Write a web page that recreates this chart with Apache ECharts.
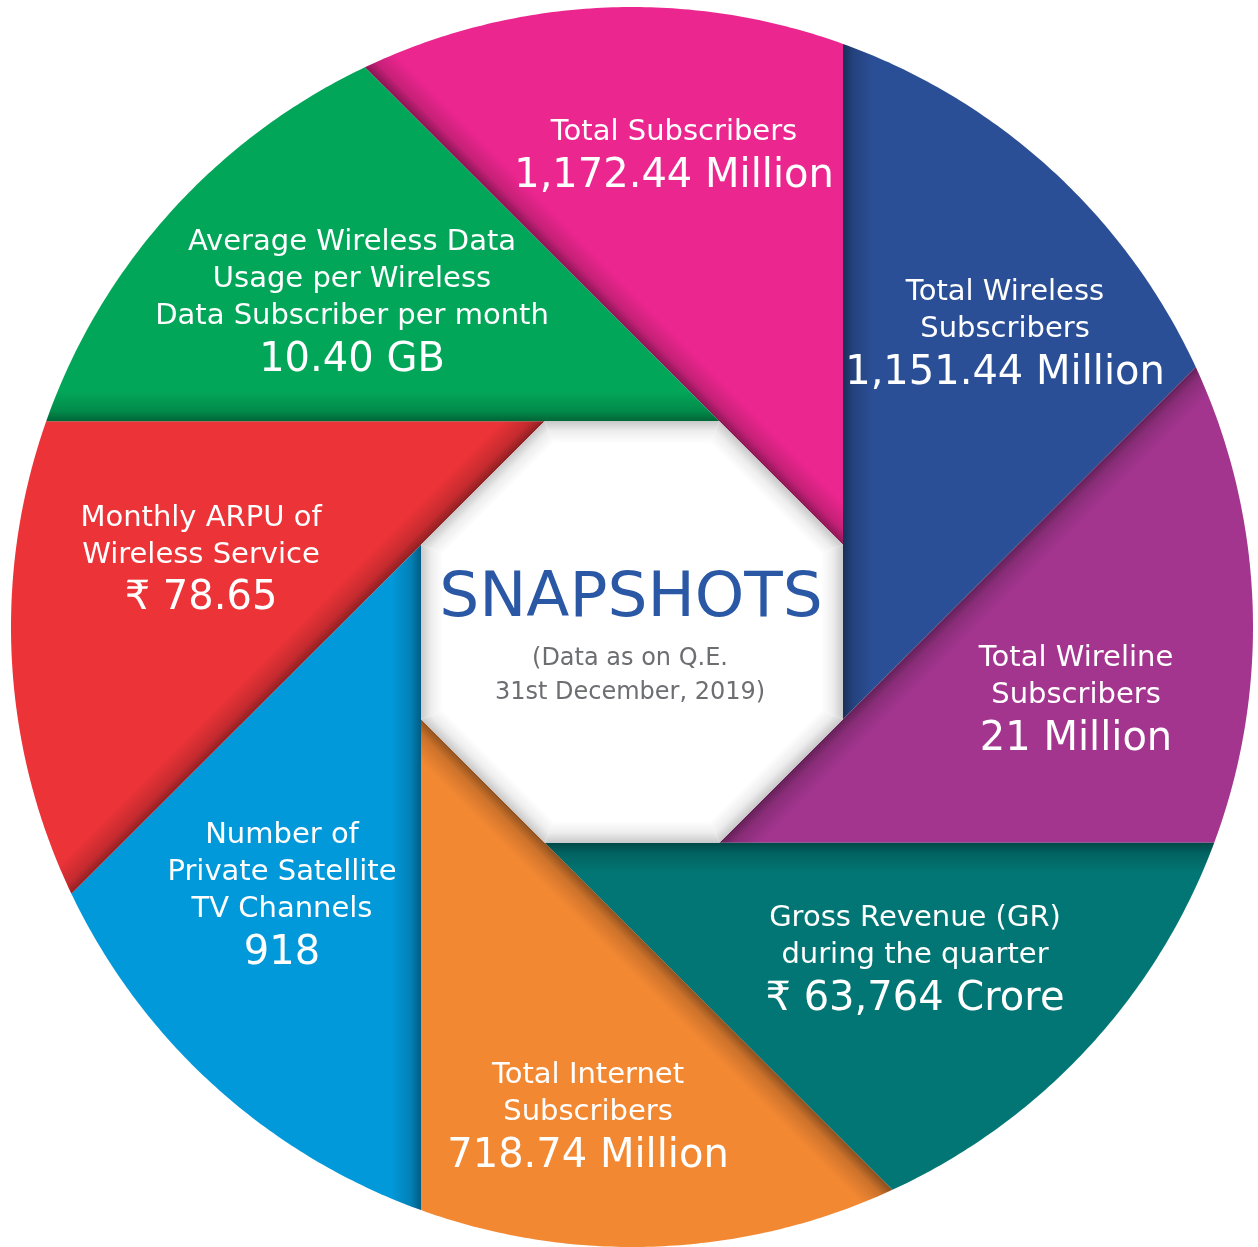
<!DOCTYPE html>
<html>
<head>
<meta charset="utf-8">
<title>Snapshots</title>
<script src="https://cdn.jsdelivr.net/npm/echarts@6/dist/echarts.min.js"></script>
<style>
    html, body { margin: 0; padding: 0; background: #ffffff; }
    #chart { width: 1258px; height: 1247px; }
</style>
</head>
<body>
<div id="chart"></div>
<script>
// ----------------------------- data -----------------------------
// segments, clockwise starting with the pink one at the top
const segTitles = [
    ['Total Subscribers'],
    ['Total Wireless', 'Subscribers'],
    ['Total Wireline', 'Subscribers'],
    ['Gross Revenue (GR)', 'during the quarter'],
    ['Total Internet', 'Subscribers'],
    ['Number of', 'Private Satellite', 'TV Channels'],
    ['Monthly ARPU of', 'Wireless Service'],
    ['Average Wireless Data', 'Usage per Wireless', 'Data Subscriber per month']
];
const segValues = [
    '1,172.44 Million',
    '1,151.44 Million',
    '21 Million',
    '₹ 63,764 Crore',
    '718.74 Million',
    '918',
    '₹ 78.65',
    '10.40 GB'
];
const segColors = ['#ec268f', '#2b4f96', '#a3358f', '#027674', '#f38833', '#0299da', '#eb3338', '#02a659'];

const centerTitle = 'SNAPSHOTS';
const centerNote = ['(Data as on Q.E.', '31st December, 2019)'];

// ----------------------------- layout -----------------------------
const R_PX = 621;                 // circle radius (px)
const CX = 632, CY = 628;         // circle centre (px)
const OCT_A = 211 / R_PX;         // octagon apothem, circle radius = 1
const OCT_OY = -5 / R_PX;         // octagon sits slightly lower than the circle centre
const OCT_R = OCT_A / Math.cos(Math.PI / 8);
const EDGE_SHADE = 30 / R_PX;     // width of the fold shadow on each segment
const INNER_SHADE = 22 / R_PX;    // inner shadow of the white octagon

// first-line centre of each label block (px)
const labelPos = [[674, 133], [1005, 293], [1076, 660], [915, 920], [588, 1077], [282, 837], [201, 519], [352, 243]];
const FONT = '"DejaVu Sans", sans-serif';

function toData(px, py) {
    return [(px - CX) / R_PX, (CY - py) / R_PX];
}

function shade(hex, f) {
    const n = parseInt(hex.slice(1), 16);
    const r = Math.round(((n >> 16) & 255) * f);
    const g = Math.round(((n >> 8) & 255) * f);
    const b = Math.round((n & 255) * f);
    return 'rgb(' + r + ',' + g + ',' + b + ')';
}

function dirOf(deg) {
    const a = deg * Math.PI / 180;
    return [Math.cos(a), Math.sin(a)];
}

// where a ray from p along d leaves the unit circle
function hitCircle(p, d) {
    const pd = p[0] * d[0] + p[1] * d[1];
    const pp = p[0] * p[0] + p[1] * p[1];
    const t = -pd + Math.sqrt(pd * pd - pp + 1);
    return [p[0] + t * d[0], p[1] + t * d[1]];
}

function octVertex(deg) {
    const a = deg * Math.PI / 180;
    return [OCT_R * Math.cos(a), OCT_OY + OCT_R * Math.sin(a)];
}

// one pinwheel segment: apex on an octagon corner, two rays, closed by the arc
function renderSegment(params, api) {
    const k = params.dataIndex;
    const color = segColors[k];
    const apex = octVertex(22.5 - 45 * k);
    const dA = dirOf(135 - 45 * k);
    const dB = dirOf(90 - 45 * k);
    const hA = hitCircle(apex, dA);
    const hB = hitCircle(apex, dB);

    let angA = Math.atan2(hA[1], hA[0]);
    const angB = Math.atan2(hB[1], hB[0]);
    if (angA < angB) angA += Math.PI * 2;

    const pts = [api.coord(apex), api.coord(hA)];
    const steps = 90;
    for (let s = 1; s < steps; s++) {
        const a = angA + (angB - angA) * s / steps;
        pts.push(api.coord([Math.cos(a), Math.sin(a)]));
    }
    pts.push(api.coord(hB));

    // shadow along ray A, falling into the segment
    const n = [dA[1], -dA[0]];
    const g0 = api.coord(apex);
    const g1 = api.coord([apex[0] + n[0] * EDGE_SHADE, apex[1] + n[1] * EDGE_SHADE]);
    const fill = new echarts.graphic.LinearGradient(g0[0], g0[1], g1[0], g1[1], [
        { offset: 0, color: shade(color, 0.6) },
        { offset: 0.35, color: shade(color, 0.84) },
        { offset: 1, color: color }
    ], true);

    const children = [{
        type: 'polygon',
        shape: { points: pts },
        style: { fill: fill, stroke: null }
    }];

    const lines = segTitles[k];
    const base = labelPos[k];
    lines.forEach((txt, j) => {
        const p = api.coord(toData(base[0], base[1] + 37 * j));
        children.push({
            type: 'text',
            x: p[0], y: p[1],
            style: {
                text: txt, fill: '#ffffff', font: '29px ' + FONT,
                textAlign: 'center', textVerticalAlign: 'middle'
            }
        });
    });
    const vp = api.coord(toData(base[0], base[1] + 37 * (lines.length - 1) + 44));
    children.push({
        type: 'text',
        x: vp[0], y: vp[1],
        style: {
            text: segValues[k], fill: '#ffffff', font: '40px ' + FONT,
            textAlign: 'center', textVerticalAlign: 'middle'
        }
    });

    return { type: 'group', children: children };
}

// white octagon in the middle with a soft inner shadow and the title
function renderCenter(params, api) {
    const children = [];
    const outer = [], inner = [];
    const rIn = (OCT_A - INNER_SHADE) / Math.cos(Math.PI / 8);
    for (let i = 0; i < 8; i++) {
        const a = (22.5 + 45 * i) * Math.PI / 180;
        outer.push([OCT_R * Math.cos(a), OCT_OY + OCT_R * Math.sin(a)]);
        inner.push([rIn * Math.cos(a), OCT_OY + rIn * Math.sin(a)]);
    }
    for (let i = 0; i < 8; i++) {
        const j = (i + 1) % 8;
        const mid = (45 + 45 * i) * Math.PI / 180;
        const e0 = api.coord([OCT_A * Math.cos(mid), OCT_OY + OCT_A * Math.sin(mid)]);
        const e1 = api.coord([(OCT_A - INNER_SHADE) * Math.cos(mid), OCT_OY + (OCT_A - INNER_SHADE) * Math.sin(mid)]);
        children.push({
            type: 'polygon',
            shape: { points: [outer[i], outer[j], inner[j], inner[i]].map(p => api.coord(p)) },
            style: {
                fill: new echarts.graphic.LinearGradient(e0[0], e0[1], e1[0], e1[1], [
                    { offset: 0, color: '#c9c9c9' },
                    { offset: 0.45, color: '#ededed' },
                    { offset: 1, color: '#ffffff' }
                ], true),
                stroke: '#ffffff', lineWidth: 0
            }
        });
    }
    children.push({
        type: 'polygon',
        shape: { points: inner.map(p => api.coord(p)) },
        style: { fill: '#ffffff', stroke: '#ffffff', lineWidth: 1 }
    });

    const tp = api.coord(toData(631, 601));
    children.push({
        type: 'text', x: tp[0], y: tp[1],
        style: {
            text: centerTitle, fill: '#2b58a5', font: '63px ' + FONT,
            textAlign: 'center', textVerticalAlign: 'middle'
        }
    });
    centerNote.forEach((txt, j) => {
        const p = api.coord(toData(630, 660 + 34 * j));
        children.push({
            type: 'text', x: p[0], y: p[1],
            style: {
                text: txt, fill: '#6d6e71', font: '24px ' + FONT,
                textAlign: 'center', textVerticalAlign: 'middle'
            }
        });
    });
    return { type: 'group', children: children };
}

const chart = echarts.init(document.getElementById('chart'));
chart.setOption({
    backgroundColor: '#ffffff',
    animation: false,
    grid: { left: CX - R_PX, top: CY - R_PX, width: 2 * R_PX, height: 2 * R_PX },
    xAxis: { type: 'value', min: -1, max: 1, show: false },
    yAxis: { type: 'value', min: -1, max: 1, show: false },
    series: [
        {
            type: 'custom',
            coordinateSystem: 'cartesian2d',
            renderItem: renderSegment,
            data: segTitles.map(() => [0, 0]),
            silent: true
        },
        {
            type: 'custom',
            coordinateSystem: 'cartesian2d',
            renderItem: renderCenter,
            data: [[0, 0]],
            silent: true,
            z: 3
        }
    ]
});
</script>
</body>
</html>
